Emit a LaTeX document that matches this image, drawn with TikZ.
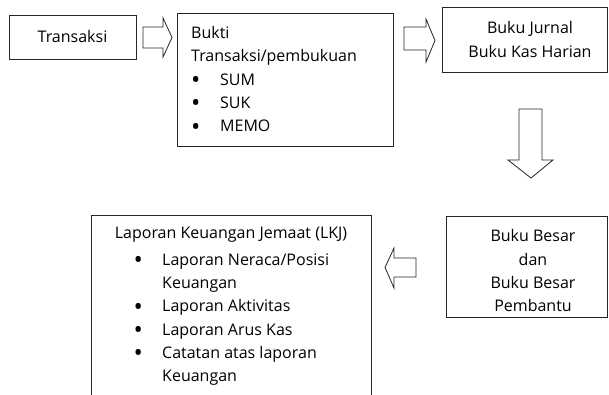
\documentclass[tikz,border=0pt]{standalone}
\usepackage{fontspec}
\usepackage{graphicx}
\setmainfont{Open Sans}
\newcommand{\bigbul}{\raisebox{-3.4pt}{\scalebox{1.55}{\textbullet}}}
\begin{document}
\begin{tikzpicture}[x=1pt,y=-1pt,
  box/.style={draw=black!85,line width=0.9pt},
  blockarrow/.style={draw=black!85,line width=0.8pt,fill=white,line join=miter},
  txt/.style={inner sep=0pt,font=\fontsize{16}{23.3}\selectfont}]
\useasboundingbox (0,0) rectangle (609,394);
% boxes
\node[box,minimum width=127pt,minimum height=44pt,anchor=north west] (trans) at (9,15) {};
\node[box,minimum width=216pt,minimum height=133pt,anchor=north west] (bukti) at (177,13) {};
\node[box,minimum width=165pt,minimum height=65pt,anchor=north west] (jurnal) at (442,7) {};
\node[box,minimum width=161pt,minimum height=101pt,anchor=north west] (besar) at (446,216) {};
\coordinate (lkjbl) at (91,396);
\coordinate (lkjtl) at (91,215);
\coordinate (lkjtr) at (371,215);
\coordinate (lkjbr) at (371,396);
\draw[box] (lkjbl) -- (lkjtl) -- (lkjtr) -- (lkjbr);
% texts (multi-line nodes anchored at the baseline of their last line)
\node[txt,anchor=base] (ttrans) at (72.5,42.3) {Transaksi};
\node[txt,anchor=base west,align=left] (tbukti) at (191,131.7) {Bukti\\Transaksi/pembukuan\\\makebox[29pt][l]{\bigbul}SUM\\\makebox[29pt][l]{\bigbul}SUK\\\makebox[29pt][l]{\bigbul}MEMO};
\node[txt,anchor=base,align=center] (tjurnal) at (530,57) {Buku Jurnal\\Buku Kas Harian};
\node[txt,anchor=base,align=center] (tbesar) at (533,311.7) {Buku Besar\\dan\\Buku Besar\\Pembantu};
\node[txt,anchor=base] (tlkj) at (231,238.3) {Laporan Keuangan Jemaat (LKJ)};
\node[txt,anchor=base west,align=left] (tlist) at (133.5,381.7) {\makebox[28.5pt][l]{\bigbul}Laporan Neraca/Posisi\\\hspace*{28.5pt}Keuangan\\\makebox[28.5pt][l]{\bigbul}Laporan Aktivitas\\\makebox[28.5pt][l]{\bigbul}Laporan Arus Kas\\\makebox[28.5pt][l]{\bigbul}Catatan atas laporan\\\hspace*{28.5pt}Keuangan};
% block arrows
\draw[blockarrow] (143,27) -- (163,27) -- (163,18) -- (172,37.5) -- (163,57) -- (163,48) -- (143,48) -- cycle;
\draw[blockarrow] (404,27) -- (426,27) -- (426,19) -- (435,40.5) -- (426,62) -- (426,50) -- (404,50) -- cycle;
\draw[blockarrow] (519,109) -- (542,109) -- (542,160) -- (553,160) -- (531,178) -- (508,160) -- (519,160) -- cycle;
\draw[blockarrow] (416,258) -- (394,258) -- (394,248) -- (385,267.5) -- (394,288) -- (394,277) -- (416,277) -- cycle;
\end{tikzpicture}
\end{document}
